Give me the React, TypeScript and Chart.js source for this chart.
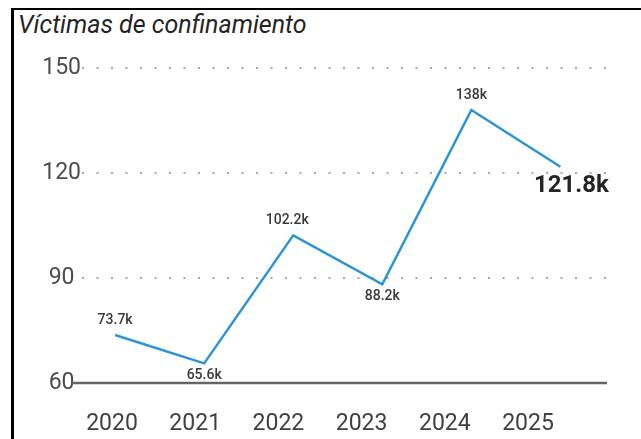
import React, { useEffect, useRef } from 'react';
import { Chart, registerables } from 'chart.js';

Chart.register(...registerables);

const title = 'Víctimas de confinamiento';
const years = ['2020', '2021', '2022', '2023', '2024', '2025'];
const victims = [73.7, 65.6, 102.2, 88.2, 138, 121.8];
const valueLabels = ['73.7k', '65.6k', '102.2k', '88.2k', '138k', '121.8k'];
const labelPlacement = ['above', 'below', 'above', 'below', 'above', 'below'];
const yTicks = [60, 90, 120, 150];

const valueLabelPlugin = {
  id: 'valueLabels',
  afterDatasetsDraw(chart: any) {
    const ctx = chart.ctx;
    const meta = chart.getDatasetMeta(0);
    ctx.save();
    ctx.textAlign = 'center';
    ctx.textBaseline = 'middle';
    meta.data.forEach((pt: any, i: number) => {
      const last = i === valueLabels.length - 1;
      if (last) {
        ctx.font = 'bold 24px Roboto';
        ctx.fillStyle = '#252423';
        ctx.fillText(valueLabels[i], pt.x + 11, pt.y + 19);
      } else {
        ctx.font = '500 14px Roboto';
        ctx.fillStyle = '#3a3a3a';
        const dy = labelPlacement[i] === 'above' ? -15 : 12;
        const dx = i === 2 ? -6 : 0;
        ctx.fillText(valueLabels[i], pt.x + dx, pt.y + dy);
      }
    });
    ctx.restore();
  },
};

const baselinePlugin = {
  id: 'baseline',
  beforeDatasetsDraw(chart: any) {
    const { ctx, chartArea, scales } = chart;
    const y = scales.y.getPixelForValue(yTicks[0]);
    ctx.save();
    ctx.strokeStyle = '#666666';
    ctx.lineWidth = 2.5;
    ctx.beginPath();
    ctx.moveTo(chartArea.left - 10, y);
    ctx.lineTo(chartArea.right, y);
    ctx.stroke();
    ctx.restore();
  },
};

export default function App() {
  const canvasRef = useRef<HTMLCanvasElement | null>(null);

  useEffect(() => {
    if (!canvasRef.current) return;
    const chart = new Chart(canvasRef.current, {
      type: 'line',
      data: {
        datasets: [
          {
            data: victims.map((v, i) => ({ x: i, y: v })),
            xAxisID: 'xd',
            yAxisID: 'y',
            borderColor: '#2a94d4',
            borderWidth: 2.5,
            pointRadius: 0,
            fill: false,
            tension: 0,
          },
        ],
      },
      options: {
        responsive: false,
        animation: false,
        layout: { padding: { top: 68, right: 34, left: 0, bottom: 0 } },
        plugins: {
          legend: { display: false },
          tooltip: { enabled: false },
          title: { display: false },
        },
        scales: {
          x: {
            type: 'linear',
            position: 'bottom',
            min: -0.3606,
            max: 5.949,
            afterBuildTicks: (s: any) => {
              s.ticks = years.map((_, i) => ({ value: i }));
            },
            afterFit: (s: any) => {
              s.height = 56;
            },
            ticks: {
              autoSkip: false,
              maxRotation: 0,
              padding: 27,
              color: '#404040',
              font: { family: 'Roboto', size: 23 },
              callback: (v: any) => years[v as number] ?? '',
            },
            grid: { display: false, drawTicks: false },
            border: { display: false },
          },
          xd: {
            type: 'linear',
            display: false,
            min: -0.3717,
            max: 5.523,
          },
          y: {
            type: 'linear',
            min: yTicks[0],
            max: yTicks[yTicks.length - 1],
            afterBuildTicks: (s: any) => {
              s.ticks = yTicks.map((v) => ({ value: v }));
            },
            afterFit: (s: any) => {
              s.width = 82;
            },
            ticks: {
              padding: 1,
              crossAlign: 'center',
              color: '#4d4d4d',
              font: { family: 'Roboto', size: 23 },
            },
            grid: { color: '#a8a8a8', lineWidth: 2, drawTicks: false },
            border: { display: false, dash: [2, 12.5] },
          },
        },
      },
      plugins: [baselinePlugin, valueLabelPlugin],
    } as any);
    return () => chart.destroy();
  }, []);

  return (
    <div style={{ position: 'fixed', left: 0, top: 0, width: 641, height: 439, overflow: 'hidden', background: '#fff' }}>
      <div
        style={{
          position: 'absolute',
          left: 11,
          top: 8,
          width: 700,
          height: 500,
          borderLeft: '3px solid #000',
          borderTop: '2px solid #000',
        }}
      />
      <div
        style={{
          position: 'absolute',
          left: 18,
          top: 10,
          fontFamily: 'Roboto',
          fontStyle: 'italic',
          fontSize: 25,
          lineHeight: '30px',
          color: '#252423',
          whiteSpace: 'nowrap',
        }}
      >
        {title}
      </div>
      <canvas
        ref={canvasRef}
        width={641}
        height={439}
        style={{ position: 'absolute', left: 0, top: 0, display: 'block' }}
      />
    </div>
  );
}
